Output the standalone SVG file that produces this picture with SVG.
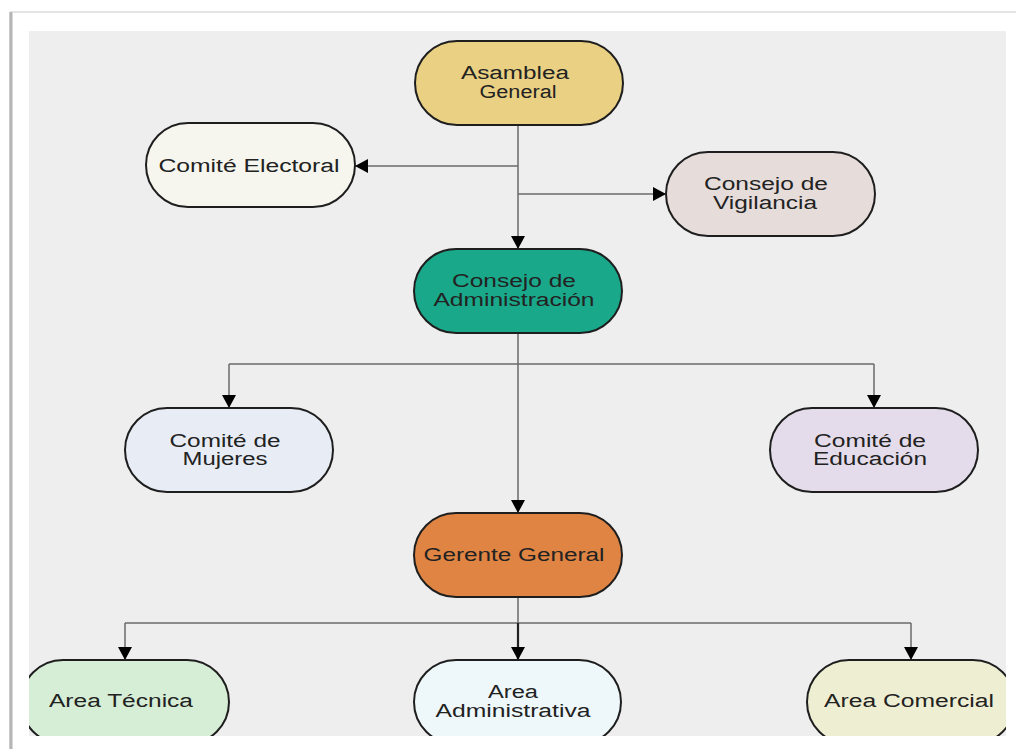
<svg xmlns="http://www.w3.org/2000/svg" width="1016" height="749" viewBox="0 0 1016 749">
  <style>
    .node rect { stroke: #1e1e1e; stroke-width: 2; }
    .node text { font-family: "Liberation Sans", Arial, sans-serif; font-size: 18px; fill: #222; text-anchor: middle; }
    .wire { fill: none; stroke: #6a6a6a; stroke-width: 1.5; }
  </style>
  <defs>
    <marker id="arrow" markerUnits="userSpaceOnUse" markerWidth="14" markerHeight="14" refX="13" refY="7" orient="auto">
      <path d="M0,0 L13,7 L0,14 Z" fill="#000"/>
    </marker>
    <clipPath id="panelClip">
      <rect x="29" y="31" width="977" height="705"/>
    </clipPath>
    <linearGradient id="edgeShade" x1="0" y1="0" x2="1" y2="0">
      <stop offset="0" stop-color="#d8d8d8"/>
      <stop offset="0.5" stop-color="#a8a8a8"/>
      <stop offset="1" stop-color="#e6e6e6"/>
    </linearGradient>
  </defs>

  <!-- page -->
  <rect x="0" y="0" width="1016" height="749" fill="#ffffff"/>
  <rect x="10" y="11" width="1006" height="2" fill="#e4e4e4"/>
  <rect x="9" y="12" width="4" height="737" fill="url(#edgeShade)"/>

  <!-- chart panel -->
  <rect x="29" y="31" width="977" height="705" fill="#eeeeee"/>

  <g clip-path="url(#panelClip)">
    <!-- connectors -->
    <g id="connectors">
      <path class="wire" d="M518,125 V249" marker-end="url(#arrow)"/>
      <path class="wire" d="M518,166 H355" marker-end="url(#arrow)"/>
      <path class="wire" d="M518,194 H666" marker-end="url(#arrow)"/>
      <path class="wire" d="M518,333 V513" marker-end="url(#arrow)"/>
      <path class="wire" d="M229,364 H874"/>
      <path class="wire" d="M229,364 V408" marker-end="url(#arrow)"/>
      <path class="wire" d="M874,364 V408" marker-end="url(#arrow)"/>
      <path class="wire" d="M518,597 V623"/>
      <path class="wire" d="M125,623 H911"/>
      <path class="wire" d="M125,623 V660" marker-end="url(#arrow)"/>
      <path class="wire" d="M518,623 V660" style="stroke:#222;stroke-width:2.2" marker-end="url(#arrow)"/>
      <path class="wire" d="M911,623 V660" marker-end="url(#arrow)"/>
    </g>

    <g id="asamblea-general" class="node">
      <rect x="415" y="41" width="208" height="84" rx="42" fill="#e9d083"/>
      <text x="515" y="79" textLength="108" lengthAdjust="spacingAndGlyphs">Asamblea</text>
      <text x="518" y="98" textLength="77" lengthAdjust="spacingAndGlyphs">General</text>
    </g>

    <g id="comite-electoral" class="node">
      <rect x="146" y="123" width="209" height="84" rx="42" fill="#f6f6ee"/>
      <text x="249" y="172" textLength="181" lengthAdjust="spacingAndGlyphs">Comité Electoral</text>
    </g>

    <g id="consejo-vigilancia" class="node">
      <rect x="666" y="152" width="209" height="84" rx="42" fill="#e6dcda"/>
      <text x="766" y="190" textLength="124" lengthAdjust="spacingAndGlyphs">Consejo de</text>
      <text x="765" y="209" textLength="104" lengthAdjust="spacingAndGlyphs">Vigilancia</text>
    </g>

    <g id="consejo-administracion" class="node">
      <rect x="414" y="249" width="208" height="84" rx="42" fill="#1aa88a"/>
      <text x="514" y="287" textLength="124" lengthAdjust="spacingAndGlyphs">Consejo de</text>
      <text x="514" y="306" textLength="161" lengthAdjust="spacingAndGlyphs">Administración</text>
    </g>

    <g id="comite-mujeres" class="node">
      <rect x="125" y="408" width="208" height="84" rx="42" fill="#e8edf5"/>
      <text x="225" y="447" textLength="111" lengthAdjust="spacingAndGlyphs">Comité de</text>
      <text x="225" y="465" textLength="85" lengthAdjust="spacingAndGlyphs">Mujeres</text>
    </g>

    <g id="comite-educacion" class="node">
      <rect x="770" y="408" width="208" height="84" rx="42" fill="#e4dcea"/>
      <text x="870" y="447" textLength="112" lengthAdjust="spacingAndGlyphs">Comité de</text>
      <text x="870" y="465" textLength="114" lengthAdjust="spacingAndGlyphs">Educación</text>
    </g>

    <g id="gerente-general" class="node">
      <rect x="414" y="513" width="208" height="84" rx="42" fill="#e08443"/>
      <text x="514" y="561" textLength="181" lengthAdjust="spacingAndGlyphs">Gerente General</text>
    </g>

    <g id="area-tecnica" class="node">
      <rect x="21" y="660" width="208" height="84" rx="42" fill="#d6eed6"/>
      <text x="121" y="707" textLength="144" lengthAdjust="spacingAndGlyphs">Area Técnica</text>
    </g>

    <g id="area-administrativa" class="node">
      <rect x="414" y="660" width="207" height="84" rx="42" fill="#eef8fb"/>
      <text x="513" y="698" textLength="50" lengthAdjust="spacingAndGlyphs">Area</text>
      <text x="513" y="717" textLength="155" lengthAdjust="spacingAndGlyphs">Administrativa</text>
    </g>

    <g id="area-comercial" class="node">
      <rect x="807" y="660" width="208" height="84" rx="42" fill="#eeefd2"/>
      <text x="909" y="707" textLength="170" lengthAdjust="spacingAndGlyphs">Area Comercial</text>
    </g>
  </g>
</svg>
